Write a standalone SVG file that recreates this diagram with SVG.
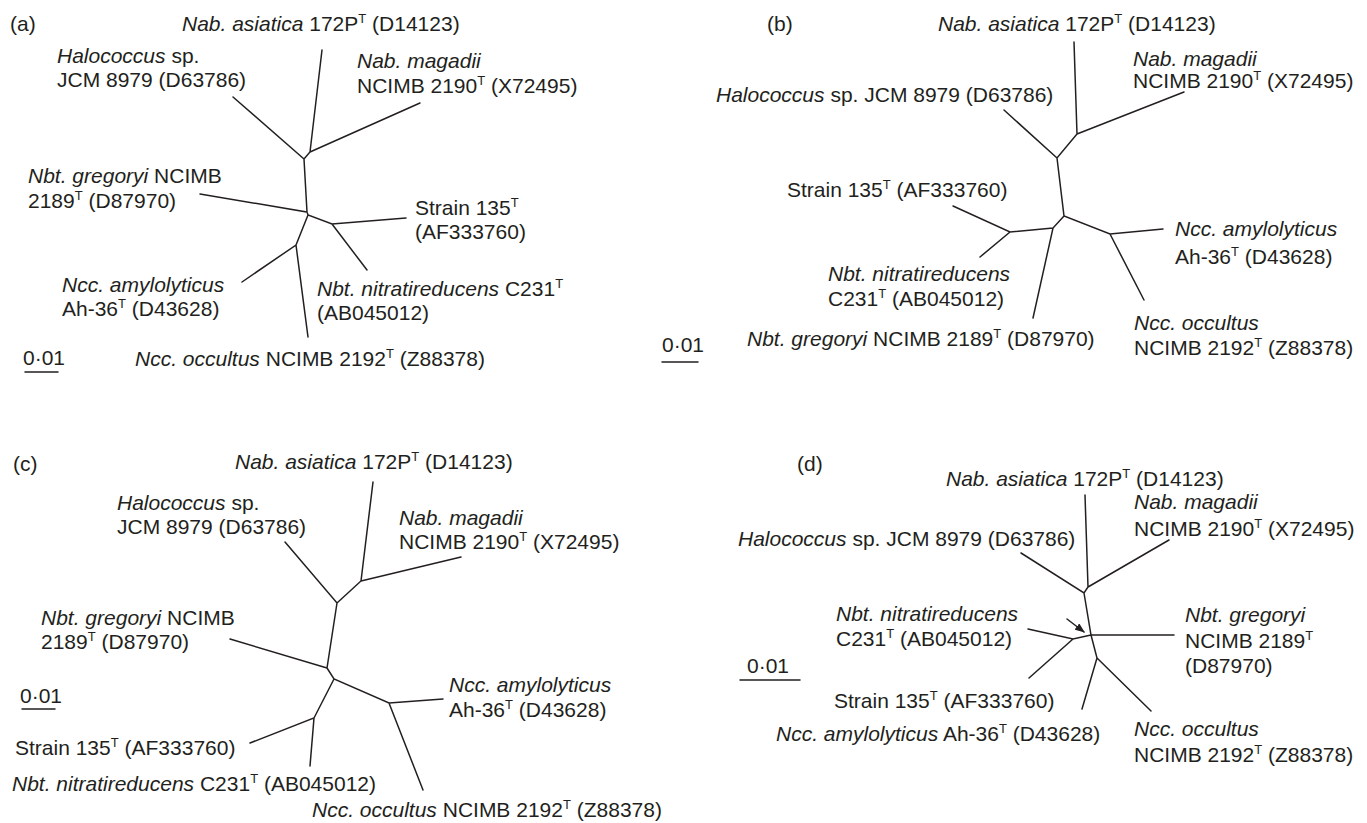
<svg xmlns="http://www.w3.org/2000/svg" width="1367" height="823" viewBox="0 0 1367 823">
<defs>
<style>
text{font-family:"Liberation Sans",Arial,sans-serif;font-size:21px;fill:#231f20}
.i{font-style:italic}
.s{font-size:13px}
.e{stroke:#231f20;stroke-width:1.5;fill:none;stroke-linecap:round}
</style>
<marker id="ah" markerWidth="10" markerHeight="8" refX="9" refY="4" orient="auto" markerUnits="userSpaceOnUse"><path d="M0,0 L10,4 L0,8 Z" fill="#231f20"/></marker>
</defs>
<rect width="1367" height="823" fill="#fff"/>

<!-- Panel a -->
<g id="panel-a">
<text id="a-label" x="10" y="31">(a)</text>
<g id="a-connectors">
<path class="e" d="M233,97 L304,159 L310,152 L322,50 M310,152 L420,103 M304,159 L307,212 L200,194 M307,212 L308,215 L332,224 L406,218 M332,224 L367,270 M308,215 L296,245 L242,282 M296,245 L308,337"/>
</g>
<g id="a-scale"><text x="23" y="365">0·01</text><path class="e" d="M25,372 L58,372"/></g>
<g id="a-asiatica"><text x="182" y="31"><tspan class="i">Nab. asiatica</tspan> 172P<tspan class="s" dy="-8">T</tspan><tspan dy="8"> (D14123)</tspan></text></g>
<g id="a-halococcus"><text x="57" y="63"><tspan class="i">Halococcus</tspan> sp.</text><text x="57" y="87">JCM 8979 (D63786)</text></g>
<g id="a-magadii"><text x="357" y="68" class="i">Nab. magadii</text><text x="357" y="93">NCIMB 2190<tspan class="s" dy="-8">T</tspan><tspan dy="8"> (X72495)</tspan></text></g>
<g id="a-gregoryi"><text x="28" y="183"><tspan class="i">Nbt. gregoryi</tspan> NCIMB</text><text x="28" y="208">2189<tspan class="s" dy="-8">T</tspan><tspan dy="8"> (D87970)</tspan></text></g>
<g id="a-strain135"><text x="415" y="215">Strain 135<tspan class="s" dy="-8">T</tspan></text><text x="415" y="239">(AF333760)</text></g>
<g id="a-nitratireducens"><text x="317" y="296"><tspan class="i">Nbt. nitratireducens</tspan> C231<tspan class="s" dy="-8">T</tspan></text><text x="317" y="320">(AB045012)</text></g>
<g id="a-amylolyticus"><text x="62" y="292" class="i">Ncc. amylolyticus</text><text x="62" y="316">Ah-36<tspan class="s" dy="-8">T</tspan><tspan dy="8"> (D43628)</tspan></text></g>
<g id="a-occultus"><text x="135" y="366"><tspan class="i">Ncc. occultus</tspan> NCIMB 2192<tspan class="s" dy="-8">T</tspan><tspan dy="8"> (Z88378)</tspan></text></g>
</g>

<!-- Panel b -->
<g id="panel-b">
<text id="b-label" x="767" y="31">(b)</text>
<g id="b-connectors">
<path class="e" d="M1004,110 L1057,158 L1077,134 L1074,42 M1077,134 L1184,92 M1057,158 L1064,216 L1110,234 L1163,229 M1110,234 L1144,300 M1064,216 L1053,228 L1033,318 M1053,228 L1010,232 L953,206 M1010,232 L980,257"/>
</g>
<g id="b-scale"><text x="662" y="352">0·01</text><path class="e" d="M662,362 L698,362"/></g>
<g id="b-asiatica"><text x="938" y="31"><tspan class="i">Nab. asiatica</tspan> 172P<tspan class="s" dy="-8">T</tspan><tspan dy="8"> (D14123)</tspan></text></g>
<g id="b-magadii"><text x="1133" y="66" class="i">Nab. magadii</text><text x="1133" y="88">NCIMB 2190<tspan class="s" dy="-8">T</tspan><tspan dy="8"> (X72495)</tspan></text></g>
<g id="b-halococcus"><text x="716" y="102"><tspan class="i">Halococcus</tspan> sp. JCM 8979 (D63786)</text></g>
<g id="b-strain135"><text x="787" y="197">Strain 135<tspan class="s" dy="-8">T</tspan><tspan dy="8"> (AF333760)</tspan></text></g>
<g id="b-nitratireducens"><text x="828" y="281" class="i">Nbt. nitratireducens</text><text x="828" y="306">C231<tspan class="s" dy="-8">T</tspan><tspan dy="8"> (AB045012)</tspan></text></g>
<g id="b-gregoryi"><text x="747" y="346"><tspan class="i">Nbt. gregoryi</tspan> NCIMB 2189<tspan class="s" dy="-8">T</tspan><tspan dy="8"> (D87970)</tspan></text></g>
<g id="b-amylolyticus"><text x="1175" y="236" class="i">Ncc. amylolyticus</text><text x="1175" y="264">Ah-36<tspan class="s" dy="-8">T</tspan><tspan dy="8"> (D43628)</tspan></text></g>
<g id="b-occultus"><text x="1134" y="330" class="i">Ncc. occultus</text><text x="1134" y="355">NCIMB 2192<tspan class="s" dy="-8">T</tspan><tspan dy="8"> (Z88378)</tspan></text></g>
</g>

<!-- Panel c -->
<g id="panel-c">
<text id="c-label" x="13" y="471">(c)</text>
<g id="c-connectors">
<path class="e" d="M285,542 L337,603 L361,581 L373,482 M361,581 L461,557 M337,603 L327,668 L230,639 M327,668 L334,679 L389,703 L443,699 M389,703 L423,790 M334,679 L314,718 L250,743 M314,718 L310,766"/>
</g>
<g id="c-scale"><text x="20" y="703">0·01</text><path class="e" d="M22,709 L55,709"/></g>
<g id="c-asiatica"><text x="235" y="469"><tspan class="i">Nab. asiatica</tspan> 172P<tspan class="s" dy="-8">T</tspan><tspan dy="8"> (D14123)</tspan></text></g>
<g id="c-halococcus"><text x="117" y="510"><tspan class="i">Halococcus</tspan> sp.</text><text x="117" y="534">JCM 8979 (D63786)</text></g>
<g id="c-magadii"><text x="399" y="525" class="i">Nab. magadii</text><text x="399" y="549">NCIMB 2190<tspan class="s" dy="-8">T</tspan><tspan dy="8"> (X72495)</tspan></text></g>
<g id="c-gregoryi"><text x="41" y="625"><tspan class="i">Nbt. gregoryi</tspan> NCIMB</text><text x="41" y="649">2189<tspan class="s" dy="-8">T</tspan><tspan dy="8"> (D87970)</tspan></text></g>
<g id="c-strain135"><text x="15" y="755">Strain 135<tspan class="s" dy="-8">T</tspan><tspan dy="8"> (AF333760)</tspan></text></g>
<g id="c-nitratireducens"><text x="12" y="791"><tspan class="i">Nbt. nitratireducens</tspan> C231<tspan class="s" dy="-8">T</tspan><tspan dy="8"> (AB045012)</tspan></text></g>
<g id="c-amylolyticus"><text x="449" y="692" class="i">Ncc. amylolyticus</text><text x="449" y="717">Ah-36<tspan class="s" dy="-8">T</tspan><tspan dy="8"> (D43628)</tspan></text></g>
<g id="c-occultus"><text x="312" y="817"><tspan class="i">Ncc. occultus</tspan> NCIMB 2192<tspan class="s" dy="-8">T</tspan><tspan dy="8"> (Z88378)</tspan></text></g>
</g>

<!-- Panel d -->
<g id="panel-d">
<text id="d-label" x="797" y="471">(d)</text>
<g id="d-connectors">
<path class="e" d="M1021,553 L1084,593 L1088,587 L1085,495 M1088,587 L1169,540 M1084,593 L1091,635 L1174,635 M1091,635 L1073,639 L1028,629 M1073,639 L1029,678 M1091,635 L1097,658 L1082,709 M1097,658 L1151,711"/>
<path class="e" d="M1067,619 L1084,632" marker-end="url(#ah)"/>
</g>
<g id="d-scale"><text x="747" y="673">0·01</text><path class="e" d="M740,680 L800,680"/></g>
<g id="d-asiatica"><text x="946" y="486"><tspan class="i">Nab. asiatica</tspan> 172P<tspan class="s" dy="-8">T</tspan><tspan dy="8"> (D14123)</tspan></text></g>
<g id="d-magadii"><text x="1134" y="509" class="i">Nab. magadii</text><text x="1134" y="536">NCIMB 2190<tspan class="s" dy="-8">T</tspan><tspan dy="8"> (X72495)</tspan></text></g>
<g id="d-halococcus"><text x="738" y="546"><tspan class="i">Halococcus</tspan> sp. JCM 8979 (D63786)</text></g>
<g id="d-nitratireducens"><text x="836" y="621" class="i">Nbt. nitratireducens</text><text x="836" y="646">C231<tspan class="s" dy="-8">T</tspan><tspan dy="8"> (AB045012)</tspan></text></g>
<g id="d-strain135"><text x="834" y="708">Strain 135<tspan class="s" dy="-8">T</tspan><tspan dy="8"> (AF333760)</tspan></text></g>
<g id="d-amylolyticus"><text x="776" y="741"><tspan class="i">Ncc. amylolyticus</tspan> Ah-36<tspan class="s" dy="-8">T</tspan><tspan dy="8"> (D43628)</tspan></text></g>
<g id="d-gregoryi"><text x="1185" y="622" class="i">Nbt. gregoryi</text><text x="1185" y="648">NCIMB 2189<tspan class="s" dy="-8">T</tspan></text><text x="1185" y="673">(D87970)</text></g>
<g id="d-occultus"><text x="1134" y="736" class="i">Ncc. occultus</text><text x="1134" y="762">NCIMB 2192<tspan class="s" dy="-8">T</tspan><tspan dy="8"> (Z88378)</tspan></text></g>
</g>
</svg>
